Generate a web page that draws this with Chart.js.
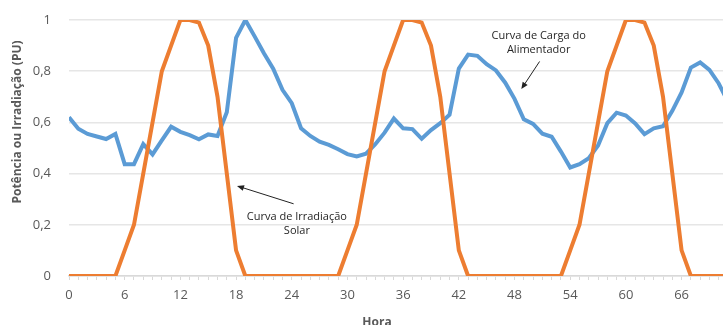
<!DOCTYPE html>
<html>
<head>
<meta charset="utf-8">
<script src="https://cdn.jsdelivr.net/npm/chart.js@4.4.1/dist/chart.umd.min.js"></script>
<style>
  html, body { margin: 0; padding: 0; overflow: hidden; background: #fff; }
  canvas { display: block; }
</style>
</head>
<body>
<canvas id="chart" width="728" height="340"></canvas>
<script>
// hours of the 3 days shown
const hours = [0, 1, 2, 3, 4, 5, 6, 7, 8, 9, 10, 11, 12, 13, 14, 15, 16, 17, 18, 19, 20, 21, 22, 23,
  24, 25, 26, 27, 28, 29, 30, 31, 32, 33, 34, 35, 36, 37, 38, 39, 40, 41, 42, 43, 44, 45, 46, 47,
  48, 49, 50, 51, 52, 53, 54, 55, 56, 57, 58, 59, 60, 61, 62, 63, 64, 65, 66, 67, 68, 69, 70, 71];

// irradiacao solar (PU)
const solar = [0, 0, 0, 0, 0, 0, 0.1, 0.2, 0.4, 0.6, 0.8, 0.9, 1, 1, 0.99, 0.9, 0.7, 0.4, 0.1, 0, 0, 0, 0, 0,
  0, 0, 0, 0, 0, 0, 0.1, 0.2, 0.4, 0.6, 0.8, 0.9, 1, 1, 0.99, 0.9, 0.7, 0.4, 0.1, 0, 0, 0, 0, 0,
  0, 0, 0, 0, 0, 0, 0.1, 0.2, 0.4, 0.6, 0.8, 0.9, 1, 1, 0.99, 0.9, 0.7, 0.4, 0.1, 0, 0, 0, 0, 0];

// carga do alimentador (PU)
const carga = [0.62, 0.575, 0.555, 0.545, 0.535, 0.555, 0.437, 0.437, 0.515, 0.475, 0.53, 0.583,
  0.563, 0.55, 0.534, 0.553, 0.547, 0.64, 0.93, 1.0, 0.936, 0.87, 0.81, 0.727,
  0.675, 0.577, 0.547, 0.525, 0.512, 0.495, 0.476, 0.467, 0.478, 0.515, 0.56, 0.615,
  0.577, 0.574, 0.536, 0.57, 0.597, 0.63, 0.81, 0.865, 0.86, 0.827, 0.803, 0.755,
  0.692, 0.612, 0.594, 0.556, 0.544, 0.486, 0.424, 0.437, 0.46, 0.51, 0.597, 0.638,
  0.627, 0.596, 0.554, 0.577, 0.585, 0.645, 0.717, 0.814, 0.834, 0.805, 0.752, 0.68];

const yTicks = [0, 0.2, 0.4, 0.6, 0.8, 1];
const xLabelStep = 6;

// callouts, in data units
const notes = [
  { text: ['Curva de Irradiação', 'Solar'], at: [24.55, 0.231], from: [24.2, 0.282], to: [18.1, 0.352] },
  { text: ['Curva de Carga do', 'Alimentador'], at: [50.6, 0.939], from: [50.7, 0.838], to: [48.73, 0.73] }
];

const gray = '#595959';

const overlay = {
  id: 'overlay',
  afterDraw(chart) {
    const ctx = chart.ctx;
    const xs = chart.scales.x, ys = chart.scales.y;
    ctx.save();
    notes.forEach(n => {
      const x1 = xs.getPixelForValue(n.from[0]), y1 = ys.getPixelForValue(n.from[1]);
      const x2 = xs.getPixelForValue(n.to[0]), y2 = ys.getPixelForValue(n.to[1]);
      const a = Math.atan2(y2 - y1, x2 - x1);
      ctx.strokeStyle = '#222';
      ctx.fillStyle = '#222';
      ctx.lineWidth = 1;
      ctx.beginPath();
      ctx.moveTo(x1, y1);
      ctx.lineTo(x2 - 5 * Math.cos(a), y2 - 5 * Math.sin(a));
      ctx.stroke();
      ctx.beginPath();
      ctx.moveTo(x2, y2);
      ctx.lineTo(x2 - 7 * Math.cos(a) + 3 * Math.sin(a), y2 - 7 * Math.sin(a) - 3 * Math.cos(a));
      ctx.lineTo(x2 - 7 * Math.cos(a) - 3 * Math.sin(a), y2 - 7 * Math.sin(a) + 3 * Math.cos(a));
      ctx.closePath();
      ctx.fill();

      ctx.font = '11px "Open Sans"';
      ctx.fillStyle = '#262626';
      ctx.textAlign = 'center';
      ctx.textBaseline = 'middle';
      const tx = xs.getPixelForValue(n.at[0]), ty = ys.getPixelForValue(n.at[1]);
      n.text.forEach((t, i) => ctx.fillText(t, tx, ty + i * 14));
    });

    // axis titles
    ctx.fillStyle = gray;
    ctx.font = 'bold 12px "Open Sans"';
    ctx.textAlign = 'center';
    ctx.textBaseline = 'middle';
    ctx.fillText('Hora', 377, 323);
    ctx.translate(18, 122);
    ctx.rotate(-Math.PI / 2);
    ctx.fillText('Potência ou Irradiação (PU)', 0, 0);
    ctx.restore();
  }
};

new Chart(document.getElementById('chart'), {
  type: 'line',
  data: {
    datasets: [
      {
        label: 'Irradiação Solar',
        data: hours.map((h, i) => ({ x: h, y: solar[i] })),
        borderColor: '#ed7d31',
        borderWidth: 4,
        pointRadius: 0,
        tension: 0,
        fill: false
      },
      {
        label: 'Carga do Alimentador',
        data: hours.map((h, i) => ({ x: h, y: carga[i] })),
        borderColor: '#5b9bd5',
        borderWidth: 4,
        pointRadius: 0,
        tension: 0,
        fill: false
      }
    ]
  },
  options: {
    responsive: false,
    animation: false,
    layout: { autoPadding: false, padding: { top: 20, left: 0, right: 0, bottom: 0 } },
    plugins: { legend: { display: false }, tooltip: { enabled: false } },
    scales: {
      x: {
        type: 'linear',
        min: 0,
        max: 71,
        // fixed axis band; the plot runs past the right edge of the window
        afterFit: s => { s.height = 64; s.paddingLeft = 0; s.paddingRight = 0; },
        border: { display: true, color: '#d9d9d9', width: 1.5 },
        grid: { drawOnChartArea: false, drawTicks: true, tickLength: 4, color: '#d9d9d9' },
        ticks: {
          stepSize: 1,
          autoSkip: false,
          maxRotation: 0,
          padding: 7,
          color: gray,
          font: { family: '"Open Sans"', size: 13 },
          callback: v => (v % xLabelStep === 0 ? String(v) : '')
        }
      },
      y: {
        min: 0,
        max: 1,
        afterFit: s => { s.width = 69; s.paddingTop = 0; s.paddingBottom = 0; },
        afterBuildTicks: s => { s.ticks = yTicks.map(v => ({ value: v })); },
        border: { display: false },
        grid: { color: '#e6e6e6', lineWidth: 1.5, drawTicks: false },
        ticks: {
          padding: 18,
          color: gray,
          font: { family: '"Open Sans"', size: 13 },
          callback: v => String(+v.toFixed(1)).replace('.', ',')
        }
      }
    }
  },
  plugins: [overlay]
});
</script>
</body>
</html>
